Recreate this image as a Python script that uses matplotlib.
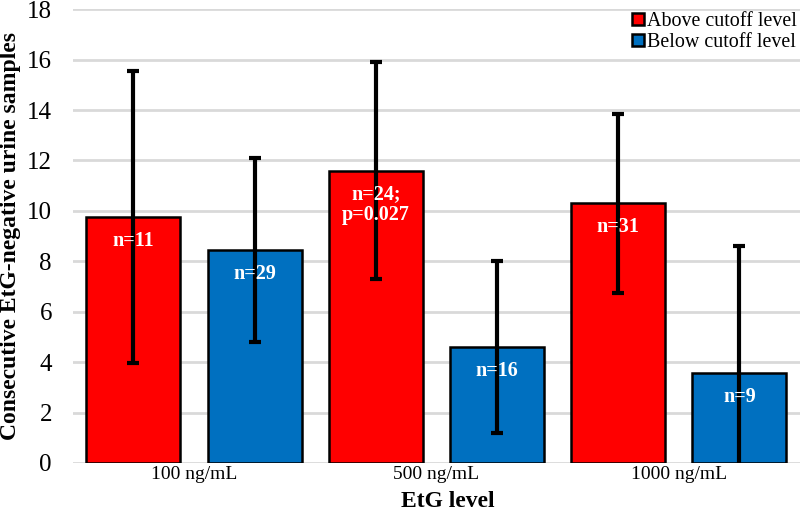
import matplotlib.pyplot as plt
import numpy as np

plt.rcParams['font.family'] = ['Liberation Serif', 'DejaVu Serif']

categories = ['100 ng/mL', '500 ng/mL', '1000 ng/mL']
above = [9.75, 11.6, 10.3]
below = [8.45, 4.6, 3.55]
above_err = [5.8, 4.3, 3.55]
below_err = [3.65, 3.4, 5.05]
above_labels = ['n=11', 'n=24;\np=0.027', 'n=31']
below_labels = ['n=29', 'n=16', 'n=9']

red = '#FF0000'
blue = '#0070C0'

fig = plt.figure(figsize=(8, 5.11), dpi=100)
ax = fig.add_axes([0.091, 0.094, 0.909, 0.888])

x = np.arange(len(categories))
w = 0.388

ax.bar(x - 0.25, above, w, color=red, edgecolor='black', linewidth=1.8,
       label='Above cutoff level', zorder=2)
ax.bar(x + 0.25, below, w, color=blue, edgecolor='black', linewidth=1.8,
       label='Below cutoff level', zorder=2)
ax.errorbar(x - 0.25, above, yerr=above_err, fmt='none', ecolor='black',
            elinewidth=3, capsize=4, capthick=3, zorder=3)
ax.errorbar(x + 0.25, below, yerr=below_err, fmt='none', ecolor='black',
            elinewidth=3, capsize=4, capthick=3, zorder=3)

for xi, v, t in zip(x - 0.25, above, above_labels):
    ax.annotate(t, (xi, v), xytext=(0, -10), textcoords='offset points',
                ha='center', va='top', color='white', fontweight='bold',
                fontsize=14.5, linespacing=1.05, zorder=4)
for xi, v, t in zip(x + 0.25, below, below_labels):
    ax.annotate(t, (xi, v), xytext=(0, -10), textcoords='offset points',
                ha='center', va='top', color='white', fontweight='bold',
                fontsize=14.5, zorder=4)

ax.set_xlim(-0.5, 2.5)
ax.set_ylim(0, 18)
ax.set_yticks(range(0, 19, 2))
ax.set_xticks(x)
ax.set_xticklabels(categories, fontsize=14)
ax.tick_params(axis='y', labelsize=18, length=0, pad=15)
ax.tick_params(axis='x', length=0, pad=2)
ax.yaxis.grid(True, color='#d9d9d9', linewidth=2, zorder=0)
ax.set_axisbelow(True)
for s in ax.spines.values():
    s.set_visible(False)

ax.set_ylabel('Consecutive EtG-negative urine samples', fontsize=17,
              fontweight='bold', va='center')
ax.yaxis.set_label_coords(-0.085, 0.5, transform=ax.transAxes)
ax.set_xlabel('EtG level', fontsize=17, fontweight='bold', va='center')
ax.xaxis.set_label_coords(0.516, -0.084, transform=ax.transAxes)

leg = ax.legend(loc='upper right', fontsize=14.4, frameon=False,
                handlelength=0.6, handleheight=0.6, handletextpad=0.15,
                labelspacing=0.1, borderaxespad=0.05, borderpad=0.1)

fig.savefig('out.png', dpi=100)
